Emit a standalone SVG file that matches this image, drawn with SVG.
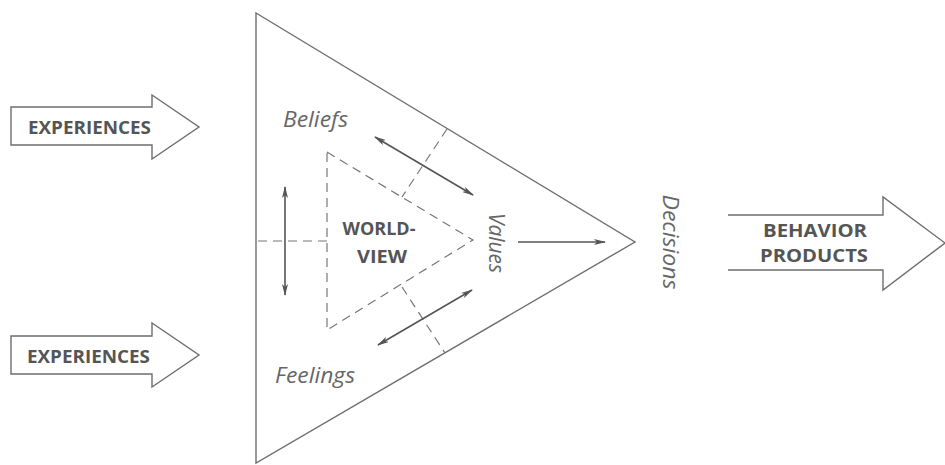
<svg xmlns="http://www.w3.org/2000/svg" width="945" height="465" viewBox="0 0 945 465">
<style>
.outline{fill:#fff;stroke:#6e6e6e;stroke-width:1.4;stroke-linejoin:miter}
.dash{fill:none;stroke:#777;stroke-width:1.2;stroke-dasharray:9 6}
.arr{fill:none;stroke:#555;stroke-width:1.6}
.lbl{font-family:"Open Sans","Liberation Sans",sans-serif;font-weight:bold;fill:#555}
.it{font-family:"Open Sans","Liberation Sans",sans-serif;font-style:italic;fill:#666;font-size:22px}
</style>
<defs>
<marker id="ah" viewBox="0 0 12 6" refX="11" refY="3" markerWidth="12" markerHeight="6" markerUnits="userSpaceOnUse" orient="auto-start-reverse">
<path d="M0,0 L12,3 L0,6 L3,3 z" fill="#555"/>
</marker>
</defs>
<rect width="945" height="465" fill="#fff"/>
<g id="triangle">
<polygon class="outline" points="256,13 635,242 256,463" fill="none"/>
</g>
<g id="worldview">
<polygon class="dash" points="327,152 473,240 327,330"/>
<text class="lbl" font-size="18" x="379" y="235" text-anchor="middle" textLength="73" lengthAdjust="spacingAndGlyphs">WORLD-</text>
<text class="lbl" font-size="18" x="382" y="263" text-anchor="middle" textLength="50" lengthAdjust="spacingAndGlyphs">VIEW</text>
</g>
<g id="dividers">
<line class="dash" x1="258" y1="241" x2="327" y2="241"/>
<line class="dash" x1="447" y1="129" x2="402" y2="197"/>
<line class="dash" x1="402" y1="287" x2="445" y2="353"/>
</g>
<g id="beliefs"><text class="it" x="283" y="127" textLength="65" lengthAdjust="spacingAndGlyphs">Beliefs</text></g>
<g id="feelings"><text class="it" x="275" y="383" textLength="80" lengthAdjust="spacingAndGlyphs">Feelings</text></g>
<g id="values"><text class="it" transform="translate(489,243) rotate(90)" text-anchor="middle" textLength="60" lengthAdjust="spacingAndGlyphs">Values</text></g>
<g id="decisions"><text class="it" transform="translate(663,242) rotate(90)" text-anchor="middle" textLength="95" lengthAdjust="spacingAndGlyphs">Decisions</text></g>
<g id="experiences-top">
<polygon class="outline" points="11,107 152,107 152,95 199,127 152,159 152,145 11,145"/>
<text class="lbl" font-size="18" x="28" y="134" textLength="123" lengthAdjust="spacingAndGlyphs">EXPERIENCES</text>
</g>
<g id="experiences-bottom">
<polygon class="outline" points="11,336 152,336 152,323 199,355 152,387 152,374 11,374"/>
<text class="lbl" font-size="18" x="27" y="363" textLength="123" lengthAdjust="spacingAndGlyphs">EXPERIENCES</text>
</g>
<g id="behavior-products">
<path class="outline" d="M728,215 L883,215 L883,197 L945,243 L883,290 L883,270 L728,270"/>
<text class="lbl" font-size="18" x="815" y="237" text-anchor="middle" textLength="104" lengthAdjust="spacingAndGlyphs">BEHAVIOR</text>
<text class="lbl" font-size="18" x="814" y="262" text-anchor="middle" textLength="108" lengthAdjust="spacingAndGlyphs">PRODUCTS</text>
</g>
<g id="connectors">
<line class="arr" x1="375" y1="137" x2="473" y2="195" marker-start="url(#ah)" marker-end="url(#ah)"/>
<line class="arr" x1="378" y1="345" x2="472" y2="290" marker-start="url(#ah)" marker-end="url(#ah)"/>
<line class="arr" x1="285" y1="187" x2="285" y2="295" marker-start="url(#ah)" marker-end="url(#ah)"/>
<line class="arr" x1="518" y1="242" x2="605" y2="242" marker-end="url(#ah)"/>
</g>
</svg>
